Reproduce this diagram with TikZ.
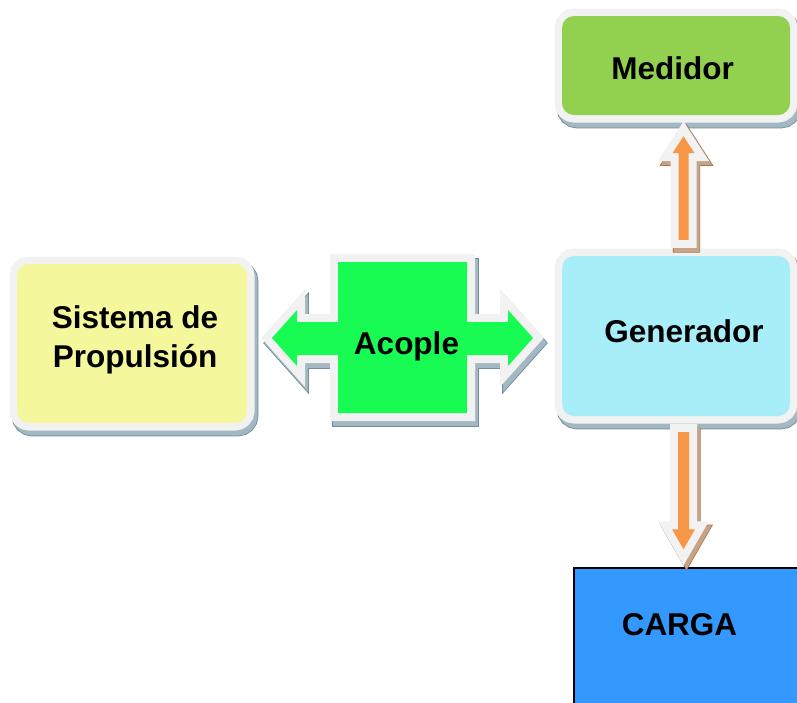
\documentclass[tikz,border=0pt]{standalone}
\usepackage{fontspec}
\setmainfont{Liberation Sans}
\usetikzlibrary{calc}
\definecolor{framec}{HTML}{F2F2F2}
\definecolor{shd}{HTML}{A3B8C3}
\definecolor{shdd}{HTML}{6A8A98}
\definecolor{shdb}{HTML}{C9A385}
\definecolor{shdbd}{HTML}{9C6E4E}
\definecolor{medg}{HTML}{92D050}
\definecolor{genc}{HTML}{A8EEF8}
\definecolor{sisy}{HTML}{F4F79C}
\definecolor{acog}{HTML}{17FB53}
\definecolor{cargab}{HTML}{3399FF}
\definecolor{arro}{HTML}{F79646}
\tikzset{
  txt/.style={font=\bfseries\fontsize{31.5}{39}\selectfont, text=black, align=center, inner sep=0pt},
  bluesh/.style={preaction={draw=shdd, fill=shdd, line width=#1+1.6pt, transform canvas={xshift=3pt,yshift=-5pt}},
                 preaction={draw=shd, fill=shd, line width=#1, transform canvas={xshift=3pt,yshift=-5pt}}},
  brownsh/.style={preaction={draw=shdbd, fill=shdbd, line width=#1+1.4pt, transform canvas={xshift=3pt,yshift=-4pt}},
                  preaction={draw=shdb, fill=shdb, line width=#1, transform canvas={xshift=3pt,yshift=-4pt}}},
  framed/.style={preaction={draw=framec, line width=#1}},
  softbox/.style={rounded corners=12pt, inner sep=0pt, fill=#1, bluesh=15pt, framed=15pt},
  blockarrow/.style={fill=arro, line join=miter, brownsh=16pt, framed=16pt},
}
\begin{document}
\begin{tikzpicture}[x=1pt,y=-1pt]
\useasboundingbox (0,0) rectangle (797,702);
\clip (0,0) rectangle (797,702);
% boxes
\node[softbox=medg, minimum width=228pt, minimum height=99pt,
      label={[txt,xshift=-3.5pt,yshift=-3pt]center:Medidor}] (med) at (676,65.5) {};
\node[softbox=genc, minimum width=228pt, minimum height=160pt,
      label={[txt,xshift=8pt,yshift=5pt]center:Generador}] (gen) at (676,336) {};
\node[softbox=sisy, minimum width=230pt, minimum height=159pt,
      label={[txt,xshift=3pt,yshift=4pt]center:Sistema de\\Propulsión}] (sis) at (132,343.5) {};
\node[draw=black, line width=1.5pt, fill=cargab, inner sep=0pt, minimum width=260pt, minimum height=202pt,
      label={[txt,xshift=-24.5pt,yshift=44pt]center:CARGA}] (carga) at (704,669) {};
% Acople double arrow
\path[fill=acog, line join=miter, bluesh=16pt, framed=16pt]
  (272,338) -- (297,310) -- (297,322) -- (338,322) -- (338,262) -- (467,262) -- (467,322)
  -- (508,322) -- (508,310) -- (533,338) -- (508,366) -- (508,355) -- (467,355) -- (467,413)
  -- (338,413) -- (338,355) -- (297,355) -- (297,366) -- cycle;
\node[txt] (aco) at (406.5,346) {Acople};
% up arrow gen -> med
\coordinate (upbot) at ([xshift=7.5pt,yshift=16pt]gen.north);
\coordinate (uptip) at ([xshift=7.5pt,yshift=-21pt]med.south);
\path[blockarrow]
  ($(upbot)+(-5,0)$) -- ($(uptip)+(-5,17)$) -- ($(uptip)+(-11,17)$) -- (uptip)
  -- ($(uptip)+(11,17)$) -- ($(uptip)+(5,17)$) -- ($(upbot)+(5,0)$) -- cycle;
% down arrow gen -> carga
\coordinate (dntop) at ([xshift=7.5pt,yshift=-16pt]gen.south);
\coordinate (dntip) at ([yshift=18pt]dntop |- carga.north);
\path[blockarrow]
  ($(dntop)+(-5.5,0)$) -- ($(dntip)+(-5.5,-20)$) -- ($(dntip)+(-11.5,-20)$) -- (dntip)
  -- ($(dntip)+(11.5,-20)$) -- ($(dntip)+(5.5,-20)$) -- ($(dntop)+(5.5,0)$) -- cycle;
\end{tikzpicture}
\end{document}
